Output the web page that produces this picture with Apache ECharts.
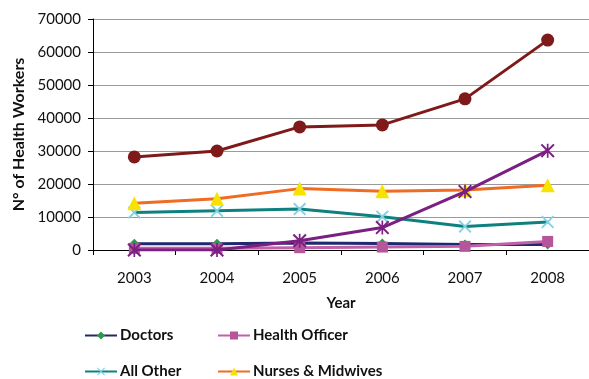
<!DOCTYPE html>
<html>
<head>
<meta charset="utf-8">
<script src="https://cdn.jsdelivr.net/npm/echarts@6/dist/echarts.min.js"></script>
<style>
  html, body { margin: 0; padding: 0; background: #fff; }
  #chart { width: 589px; height: 379px; }
</style>
</head>
<body>
<div id="chart"></div>
<script>
// Health workforce by cadre, 2003-2008
const years = ['2003', '2004', '2005', '2006', '2007', '2008'];
const doctors = [1900, 1900, 2100, 2000, 1700, 1700];
const healthOfficer = [500, 500, 700, 900, 1100, 2600];
const allOther = [11400, 11900, 12400, 10100, 7100, 8500];
const nursesMidwives = [14200, 15500, 18600, 17800, 18200, 19600];
const extensionWorkers = [0, 0, 2800, 6800, 17700, 30100];
const total = [28200, 30000, 37300, 37900, 45800, 63600];
const yTicks = [0, 10000, 20000, 30000, 40000, 50000, 60000, 70000];

const FONT = 'Lato, "Open Sans", sans-serif';

// marker shapes
const crossPath = 'path://M0,1 L1,0 L5,4 L9,0 L10,1 L6,5 L10,9 L9,10 L5,6 L1,10 L0,9 L4,5 Z';
const starPath = 'path://M0,1 L1,0 L5,4 L9,0 L10,1 L6,5 L10,9 L9,10 L5,6 L1,10 L0,9 L4,5 Z M4.4,0 L5.6,0 L5.6,10 L4.4,10 Z';

function line(name, data, color, symbol, size, markerColor, z) {
  return {
    name: name,
    type: 'line',
    data: data,
    z: z,
    symbol: symbol,
    symbolSize: size,
    showAllSymbol: true,
    lineStyle: { color: color, width: 3 },
    itemStyle: { color: markerColor, borderWidth: 0 },
    emphasis: { disabled: true },
    animation: false
  };
}

const legendText = { fontFamily: FONT, fontWeight: 'bold', fontSize: 15, color: '#111', padding: [0, 0, 0, -2] };

const chart = echarts.init(document.getElementById('chart'));
chart.setOption({
  animation: false,
  textStyle: { fontFamily: FONT },
  grid: { left: 93, top: 19, width: 504, bottom: 129, containLabel: false },
  xAxis: {
    type: 'category',
    data: years,
    boundaryGap: true,
    name: 'Year',
    nameLocation: 'middle',
    nameGap: 46,
    nameTextStyle: { fontFamily: FONT, fontWeight: 'bold', fontSize: 15, color: '#111' },
    axisLine: { lineStyle: { color: '#000', width: 1 } },
    axisTick: { show: true, length: 5, lineStyle: { color: '#000' } },
    axisLabel: { fontFamily: FONT, fontSize: 15, color: '#111', margin: 21 },
    splitLine: { show: false }
  },
  yAxis: {
    type: 'value',
    min: yTicks[0],
    max: yTicks[yTicks.length - 1],
    interval: 10000,
    name: 'N° of Health Workers',
    nameLocation: 'middle',
    nameGap: 59,
    nameTextStyle: { fontFamily: FONT, fontWeight: 'bold', fontSize: 16, color: '#111' },
    axisLine: { show: true, lineStyle: { color: '#000', width: 1 } },
    axisTick: { show: true, length: 5, lineStyle: { color: '#000' } },
    axisLabel: { fontFamily: FONT, fontSize: 15, color: '#111', margin: 12, formatter: function (v) { return String(v); } },
    splitLine: { show: true, lineStyle: { color: '#9a9a9a', width: 1 } }
  },
  legend: [
    {
      data: ['Doctors', 'All Other'],
      orient: 'vertical',
      left: 84,
      top: 328,
      height: 60,
      padding: 0,
      itemWidth: 32,
      itemHeight: 10,
      itemGap: 21,
      textStyle: legendText
    },
    {
      data: ['Health Officer', 'Nurses & Midwives'],
      orient: 'vertical',
      left: 217,
      top: 328,
      height: 60,
      padding: 0,
      itemWidth: 32,
      itemHeight: 10,
      itemGap: 21,
      textStyle: legendText
    }
  ],
  series: [
    line('Doctors', doctors, '#1f2a6e', 'diamond', 10, '#2a9a4a', 2),
    line('Health Officer', healthOfficer, '#c060a8', 'rect', 11, '#b5559b', 3),
    line('All Other', allOther, '#0e8080', crossPath, 13, '#7fd2e3', 4),
    line('Nurses & Midwives', nursesMidwives, '#ef6c22', 'triangle', 14, '#f7e200', 5),
    line('Health Extension Workers', extensionWorkers, '#7b1f82', starPath, 14, '#7b1f82', 6),
    line('Total', total, '#7f1a1a', 'circle', 13, '#7f1a1a', 7)
  ]
});
</script>
</body>
</html>
